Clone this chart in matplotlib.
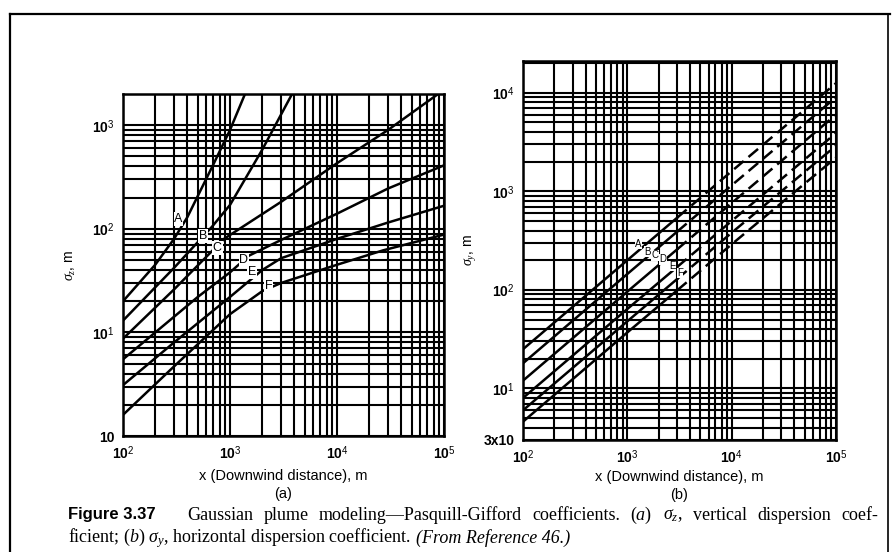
import numpy as np
import matplotlib
matplotlib.use('Agg')
import matplotlib.pyplot as plt

plt.rcParams['font.family'] = ['Liberation Sans', 'DejaVu Sans']
plt.rcParams['mathtext.fontset'] = 'custom'
plt.rcParams['mathtext.rm'] = 'Liberation Sans'
plt.rcParams['mathtext.it'] = 'Liberation Serif:italic'

# (a) sigma_z, vertical dispersion coefficient
x_a = [100, 200, 300, 400, 700, 1000, 1380]
sz_A = [20, 45, 80, 130, 420, 900, 2000]
x_b = [100, 300, 680, 1000, 2000, 3800]
sz_B = [13, 42, 105, 170, 580, 2000]
x_c = [100, 300, 880, 3000, 10000, 30000, 100000]
sz_C = [8.7, 26, 80, 182, 430, 900, 2200]
x_d = [100, 500, 1000, 1500, 3000, 10000, 30000, 100000]
sz_D = [5.5, 22, 38, 55, 78, 140, 245, 410]
x_e = [100, 300, 1000, 2000, 3000, 10000, 30000, 100000]
sz_E = [3.1, 8, 22, 40, 52, 80, 115, 167]
x_f = [100, 300, 1000, 2000, 3000, 10000, 27000, 100000]
sz_F = [1.6, 4.7, 15, 25, 30, 45, 62, 88]

# (b) sigma_y, horizontal dispersion coefficient
x_y = [100, 1000, 10000, 100000]
sy_A = [25, 200, 1600, 12500]
sy_B = [18, 145, 1150, 9000]
sy_C = [12, 96, 760, 6000]
sy_D = [8, 64, 500, 3900]
sy_E = [6, 48, 380, 2900]
sy_F = [4.6, 37, 290, 2200]
solid_until = 3000

classes = ['A', 'B', 'C', 'D', 'E', 'F']
lab_a = [(330, 125), (560, 85), (760, 65), (1350, 50), (1600, 38), (2300, 28)]
lab_b = [(1268, 295), (1545, 245), (1845, 224), (2200, 204), (2690, 174), (3200, 148)]

caption1 = ['Gaussian', 'plume', 'modeling—Pasquill-Gifford', 'coefficients.',
            '($a$)', r'$\sigma_z$,', 'vertical', 'dispersion', 'coef-']
caption2 = r'ficient; ($b$) $\sigma_y$, horizontal dispersion coefficient. '
caption2_it = '(From Reference 46.)'

fig = plt.figure(figsize=(8.92, 5.52), dpi=100)

# page frame of the scan
fig.add_artist(plt.Line2D([0.011, 0.998], [0.975, 0.975], color='k', lw=1.6))
fig.add_artist(plt.Line2D([0.011, 0.011], [0.0, 0.975], color='k', lw=1.6))
fig.add_artist(plt.Line2D([0.995, 0.995], [0.0, 0.975], color='k', lw=1.2))


def grid_axes(rect, ylim):
    ax = fig.add_axes(rect)
    ax.set_xscale('log')
    ax.set_yscale('log')
    ax.set_xlim(100, 1e5)
    ax.set_ylim(*ylim)
    ax.grid(True, which='both', color='k', lw=1.5)
    ax.tick_params(which='both', length=0, labelsize=10, pad=6)
    for s in ax.spines.values():
        s.set_linewidth(1.8)
    ax.set_xticks([1e2, 1e3, 1e4, 1e5])
    ax.set_xticklabels(['10$^2$', '10$^3$', '10$^4$', '10$^5$'], fontweight='bold')
    ax.xaxis.set_minor_formatter(plt.NullFormatter())
    ax.yaxis.set_minor_formatter(plt.NullFormatter())
    ax.set_axisbelow(True)
    return ax


# panel (a)
ax1 = grid_axes([0.1379, 0.2101, 0.3599, 0.6196], (1, 2000))
ax1.set_yticks([1, 10, 100, 1000])
ax1.set_yticklabels(['10', '10$^1$', '10$^2$', '10$^3$'], fontweight='bold')
for xs, ys in [(x_a, sz_A), (x_b, sz_B), (x_c, sz_C), (x_d, sz_D), (x_e, sz_E), (x_f, sz_F)]:
    ax1.plot(xs, ys, color='k', lw=1.8)
for c, (lx, ly) in zip(classes, lab_a):
    ax1.text(lx, ly, c, fontsize=9, ha='center', va='center',
             bbox=dict(facecolor='white', edgecolor='none', pad=0.5))
ax1.set_ylabel(r'$\sigma_z$, m', fontsize=10, labelpad=10)
ax1.set_xlabel('x (Downwind distance), m\n(a)', fontsize=10.5, labelpad=5, linespacing=1.35)

# panel (b)
ax2 = grid_axes([0.5863, 0.2029, 0.3509, 0.6866], (3, 2.1e4))
ax2.set_yticks([3, 10, 100, 1000, 10000])
ax2.set_yticklabels(['3x10', '10$^1$', '10$^2$', '10$^3$', '10$^4$'], fontweight='bold')
lx = np.log10(x_y)
for ys in [sy_A, sy_B, sy_C, sy_D, sy_E, sy_F]:
    y_cut = 10 ** np.interp(np.log10(solid_until), lx, np.log10(ys))
    xs1 = [x for x in x_y if x < solid_until] + [solid_until]
    ys1 = [y for x, y in zip(x_y, ys) if x < solid_until] + [y_cut]
    xs2 = [solid_until] + [x for x in x_y if x > solid_until]
    ys2 = [y_cut] + [y for x, y in zip(x_y, ys) if x > solid_until]
    ax2.plot(xs1, ys1, color='k', lw=1.8)
    ax2.plot(xs2, ys2, color='k', lw=1.8, ls=(0, (5, 2.5)))
for c, (px, py) in zip(classes, lab_b):
    ax2.text(px, py, c, fontsize=7, ha='center', va='center',
             bbox=dict(facecolor='white', edgecolor='none', pad=0.2))
ax2.set_ylabel(r'$\sigma_y$, m', fontsize=10, labelpad=4)
ax2.set_xlabel('x (Downwind distance), m\n(b)', fontsize=10.5, labelpad=3, linespacing=1.35)

# caption, first line justified between the label and the right margin
cap_y1, cap_y2 = 1 - 515 / 552, 1 - 538 / 552
cap_fs = 13
fig.text(68 / 892, cap_y1, 'Figure 3.37', fontsize=12, fontweight='bold',
         family='Liberation Sans', va='center')
fig.canvas.draw()
rend = fig.canvas.get_renderer()
words = [fig.text(0, cap_y1, w, fontsize=cap_fs, family='Liberation Serif', va='center')
         for w in caption1]
widths = [t.get_window_extent(rend).width for t in words]
x0, x1 = 187, 878
gap = (x1 - x0 - sum(widths)) / (len(words) - 1)
xpos = x0
for t, w in zip(words, widths):
    t.set_x(xpos / 892)
    xpos += w + gap
t2 = fig.text(68 / 892, cap_y2, caption2, fontsize=cap_fs, family='Liberation Serif', va='center')
w2 = t2.get_window_extent(rend).width
fig.text((68 + w2 + 4) / 892, cap_y2, caption2_it, fontsize=cap_fs, family='Liberation Serif',
         style='italic', va='center')

fig.savefig('out.png', dpi=100)
